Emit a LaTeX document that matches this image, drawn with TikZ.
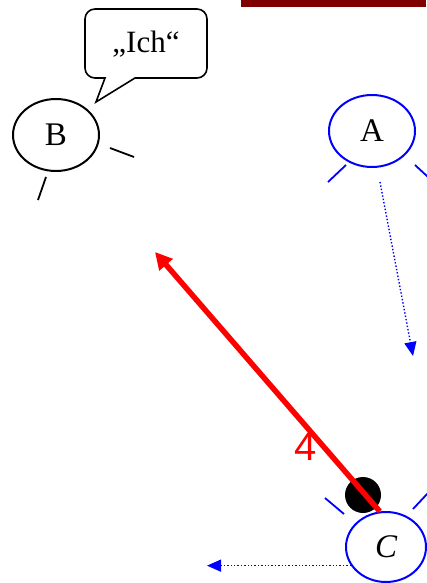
\documentclass[tikz,border=0pt]{standalone}
\usepackage{fontspec}
\setmainfont{Liberation Serif}
\newfontfamily\labelsans{Liberation Sans}
\usepackage{tikz}
\usetikzlibrary{shapes.geometric,arrows.meta}

\definecolor{barred}{RGB}{128,0,0}

\begin{document}
\begin{tikzpicture}[x=1pt, y=-1pt,
    person/.style={ellipse, draw, line width=2pt, minimum width=86, minimum height=72,
                   inner sep=0pt, font=\fontsize{33}{35}\selectfont},
    tick/.style={line width=1.8pt},
    move/.style={blue, dotted, line width=1.4pt, -{Triangle[length=14pt,width=12pt]}}]

    \useasboundingbox (0,0) rectangle (426,583);

    % Bar at the top
    \fill[barred] (241,0) rectangle (426,7);

    % Speech bubble of B
    \draw[line width=1.6pt] (96,102) -- (105,78)
        {[rounded corners=10pt] -- (85,78) -- (85,9) -- (207,9) -- (207,78)} -- (135,78) -- cycle;
    \node (ich) at (146,44) {\fontsize{31}{33}\selectfont „Ich“};

    % Persons
    \node[person] (b) at (56,135) {B};
    \node[person, blue, text=black] (a) at (372,131) {A};
    \node[person, blue, text=black, minimum width=80, minimum height=70] (c) at (386,547) {\itshape C};

    % Ticks round B
    \draw[tick] (110,148) -- (134,157);
    \draw[tick] (46,177) -- (38,200);

    % Ticks round A
    \draw[tick, blue] (346,165) -- (328,182);
    \draw[tick, blue] (415,165) -- (428,177);

    % Ticks round C
    \draw[tick, blue] (325,498) -- (344,514);
    \draw[tick, blue] (413,509) -- (428,493);

    % Moves
    \coordinate (astart) at (380,182);
    \coordinate (aend) at (413,356);
    \draw[move] (astart) -- (aend);

    \coordinate (cend) at (207,565);
    \draw[move] (c.208) -- (c.208 -| cend);

    % Ball and throw
    \fill (363,495) circle[radius=18];
    \coordinate (throw) at (155,252);
    \draw[red, line width=5.5pt, -{Triangle[length=17pt,width=17pt]}] (c.100) -- (throw);
    \node[red, font=\labelsans\fontsize{40}{42}\selectfont] (four) at (306,447) {4};

\end{tikzpicture}
\end{document}
